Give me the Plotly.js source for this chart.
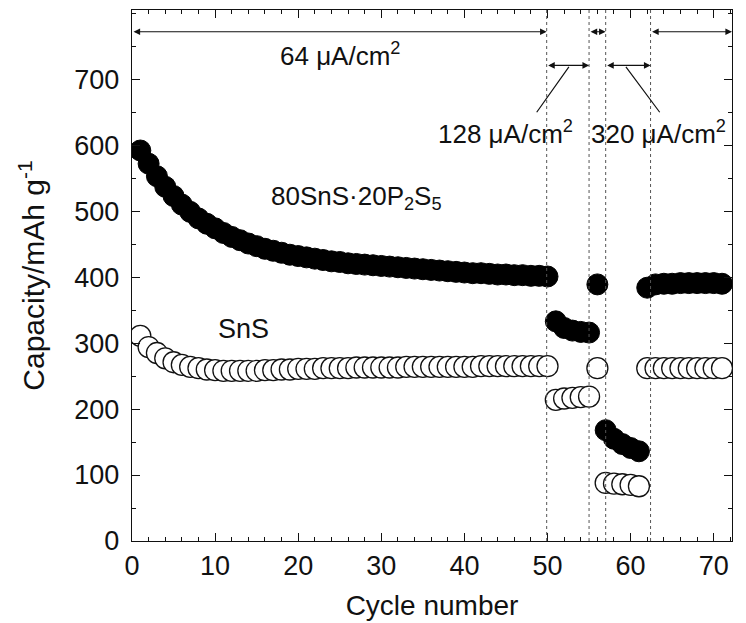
<!DOCTYPE html>
<html>
<head>
<meta charset="utf-8">
<script src="https://cdn.plot.ly/plotly-3.0.1.min.js"></script>
<style>html,body{margin:0;padding:0;background:#fff}</style>
</head>
<body>
<div id="chart" style="width:746px;height:623px"></div>
<script>
// Cycle numbers
const cyclesA = [];
for (let i = 1; i <= 71; i++) cyclesA.push(i);

// 80SnS·20P2S5 (filled circles)
const glassCapacity = [
  592, 572, 553, 537, 523, 510, 499, 489, 481, 474,
  467, 461, 456, 451, 447, 443, 440, 437, 434, 432,
  430, 428, 426, 424, 423, 421, 420, 419, 418, 417,
  416, 415, 414, 413, 412, 411, 410, 409, 408, 407,
  406, 406, 405, 404, 404, 403, 403, 402, 402, 401,
  333, 323, 319, 317, 316,
  389,
  168, 155, 147, 141, 136,
  384, 389, 390, 390, 391, 391, 391, 391, 391, 390
];

// SnS (open circles)
const snsCapacity = [
  311, 294, 285, 277, 271, 267, 264, 262, 260, 259,
  258, 258, 258, 258, 258, 259, 259, 260, 260, 261,
  261, 261, 262, 262, 262, 262, 263, 263, 263, 263,
  263, 263, 264, 264, 264, 264, 264, 264, 264, 264,
  264, 265, 265, 265, 265, 265, 265, 265, 265, 265,
  214, 216, 217, 218, 219,
  262,
  88, 87, 86, 85, 83,
  262, 262, 262, 262, 262, 262, 262, 262, 262, 262
];

// Current-density region boundaries (cycle number)
const boundaries = [49.9, 55.0, 57.0, 62.4];
const xMax = 72.2;
const xTickVals = [0, 10, 20, 30, 40, 50, 60, 70];
const yTickVals = [0, 100, 200, 300, 400, 500, 600, 700];

const font = "Liberation Sans, Arial, Helvetica, sans-serif";

const traces = [
  {
    x: cyclesA, y: glassCapacity, mode: 'markers', type: 'scatter',
    marker: {symbol: 'circle', size: 21, color: '#000', line: {color: '#000', width: 1}},
    hoverinfo: 'skip', showlegend: false
  },
  {
    x: cyclesA, y: snsCapacity, mode: 'markers', type: 'scatter',
    marker: {symbol: 'circle', size: 21, color: '#fff', line: {color: '#111', width: 1.3}},
    hoverinfo: 'skip', showlegend: false
  }
];

const shapes = boundaries.map(b => ({
  type: 'line', xref: 'x', yref: 'paper', x0: b, x1: b, y0: 0, y1: 1,
  line: {color: '#555', width: 1, dash: 'dot'}
}));

function dblArrow(x0, x1, y) {
  return {
    x: x1, y: y, ax: x0, ay: y, xref: 'x', yref: 'y', axref: 'x', ayref: 'y',
    text: '', showarrow: true, arrowhead: 2, arrowsize: 1.1, arrowwidth: 1.2,
    arrowside: 'end+start', arrowcolor: '#111', standoff: 0, startstandoff: 0
  };
}
function leader(x0, y0, x1, y1) {
  return {
    x: x1, y: y1, ax: x0, ay: y0, xref: 'x', yref: 'y', axref: 'x', ayref: 'y',
    text: '', showarrow: true, arrowhead: 0, arrowwidth: 1.2, arrowcolor: '#111',
    standoff: 0, startstandoff: 0
  };
}
function label(x, y, text, size) {
  return {
    x: x, y: y, xref: 'x', yref: 'y', text: text, showarrow: false,
    font: {family: font, size: size || 26, color: '#111'}
  };
}

const annotations = [
  dblArrow(0, boundaries[0], 772),
  dblArrow(boundaries[1], boundaries[2], 772),
  dblArrow(boundaries[3], xMax, 772),
  dblArrow(boundaries[0], boundaries[1], 721),
  dblArrow(boundaries[2], boundaries[3], 721),
  leader(52.7, 721, 48.7, 650),
  leader(59.3, 721, 63.5, 650),
  label(25.0, 738, '64 μA/cm<sup>2</sup>'),
  label(44.9, 620, '128 μA/cm<sup>2</sup>'),
  label(63.3, 620, '320 μA/cm<sup>2</sup>'),
  label(27.0, 520, '80SnS·20P<sub>2</sub>S<sub>5</sub>'),
  label(13.4, 322, 'SnS', 27)
];

const layout = {
  width: 746, height: 623, autosize: false,
  margin: {l: 132, r: 14, t: 10, b: 82, pad: 0},
  paper_bgcolor: '#fff', plot_bgcolor: '#fff',
  font: {family: font, size: 27, color: '#111'},
  xaxis: {
    range: [0, xMax], tickvals: xTickVals,
    ticks: 'inside', ticklen: 8, tickwidth: 1, tickcolor: '#111',
    showline: true, linecolor: '#111', linewidth: 1.2, mirror: 'ticks',
    showgrid: false, zeroline: false,
    minor: {dtick: 2, tick0: 0, ticks: 'inside', ticklen: 4, tickcolor: '#111', showgrid: false},
    tickfont: {family: font, size: 27, color: '#111'},
    title: {text: 'Cycle number', font: {family: font, size: 28, color: '#111'}, standoff: 15}
  },
  yaxis: {
    range: [0, 805], tickvals: yTickVals,
    ticks: 'inside', ticklen: 8, tickwidth: 1, tickcolor: '#111',
    showline: true, linecolor: '#111', linewidth: 1.2, mirror: 'ticks',
    showgrid: false, zeroline: false, ticklabelstandoff: 6,
    minor: {dtick: 50, tick0: 0, ticks: 'inside', ticklen: 4, tickcolor: '#111', showgrid: false},
    tickfont: {family: font, size: 27, color: '#111'},
    title: {text: 'Capacity/mAh g<sup>-1</sup>', font: {family: font, size: 30, color: '#111'}, standoff: 20}
  },
  shapes: shapes,
  annotations: annotations
};

Plotly.newPlot('chart', traces, layout, {displayModeBar: false, staticPlot: true});
</script>
</body>
</html>
